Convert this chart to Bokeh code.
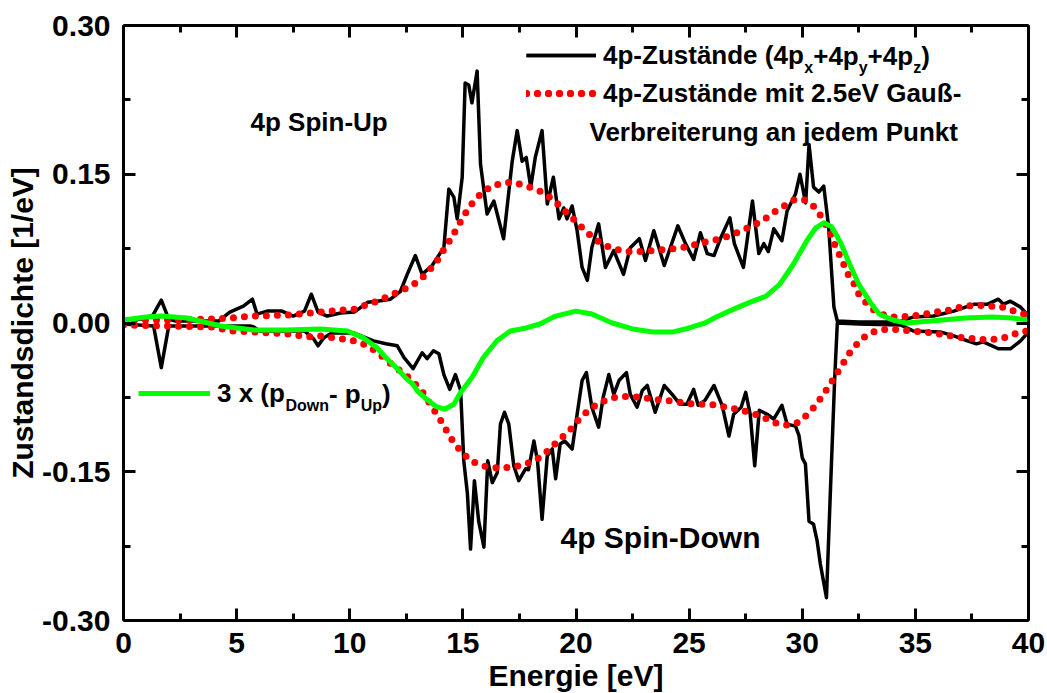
from bokeh.plotting import figure
from bokeh.models import (Range1d, FixedTicker, LinearAxis, NumeralTickFormatter,
                          CustomJSTickFormatter, Label, Legend, LegendItem)
from bokeh.embed import file_html
from bokeh.resources import INLINE

FONT = "Liberation Sans"

# ---------------- data ----------------
up_energy = [0, 0.8, 1.3, 1.67, 2.0, 2.3, 3.0, 4.2, 4.7, 5.3, 5.7, 5.9, 6.35, 7.0, 7.5, 8.0, 8.3, 8.6,
             9.0, 9.6, 10.2, 10.8, 11.2, 11.8, 12.24, 12.54, 12.9, 13.2, 13.64, 14.16, 14.38, 14.6,
             14.75, 14.97, 15.1, 15.26, 15.4, 15.63, 15.78, 16.07, 16.37, 16.8, 17.18, 17.4, 17.62,
             17.8, 18.0, 18.2, 18.5, 18.73, 19.0, 19.25, 19.46, 19.6, 19.83, 20.05, 20.27, 20.5, 20.7,
             21.0, 21.3, 21.67, 22.1, 22.4, 22.8, 23.07, 23.44, 23.9, 24.5, 24.84, 25.2, 25.5, 25.8,
             26.1, 26.4, 26.8, 27.0, 27.4, 27.8, 28.08, 28.3, 28.5, 28.74, 29.1, 29.33, 29.7, 29.9,
             30.15, 30.3, 30.5, 30.73, 30.95, 31.17, 31.4, 31.55, 32.5, 33.5, 34.2, 34.9, 35.8, 36.7,
             37.6, 38.2, 38.67, 38.9, 39.2, 39.65, 40.0]
up_dos = [0.003, 0.004, 0.008, 0.023, 0.004, 0.002, 0.002, 0.002, 0.011, 0.017, 0.024, 0.009, 0.012,
          0.012, 0.007, 0.012, 0.029, 0.011, 0.007, 0.010, 0.011, 0.021, 0.022, 0.024, 0.032, 0.049,
          0.068, 0.049, 0.058, 0.076, 0.135, 0.127, 0.105, 0.147, 0.242, 0.240, 0.222, 0.254, 0.160,
          0.110, 0.123, 0.085, 0.163, 0.194, 0.163, 0.167, 0.137, 0.167, 0.194, 0.120, 0.147, 0.105,
          0.116, 0.105, 0.118, 0.093, 0.056, 0.043, 0.076, 0.100, 0.056, 0.073, 0.049, 0.076, 0.085,
          0.063, 0.093, 0.058, 0.098, 0.080, 0.064, 0.091, 0.070, 0.068, 0.086, 0.106, 0.080, 0.056,
          0.123, 0.070, 0.080, 0.072, 0.095, 0.083, 0.113, 0.130, 0.150, 0.121, 0.180, 0.137, 0.132,
          0.138, 0.096, 0.016, 0.002, 0.001, 0.001, 0.001, 0.006, 0.007, 0.012, 0.019, 0.019, 0.024,
          0.019, 0.022, 0.016, 0.007]

down_energy = [0, 1.33, 1.67, 2.0, 3.0, 4.0, 5.6, 5.76, 6.0, 7.0, 8.0, 8.4, 8.6, 8.85, 9.2, 10.17,
               11.05, 11.6, 12.1, 12.4, 12.8, 13.2, 13.42, 13.7, 13.94, 14.16, 14.42, 14.67, 14.9,
               15.04, 15.2, 15.34, 15.51, 15.7, 15.93, 16.1, 16.3, 16.52, 16.66, 16.84, 17.03, 17.25,
               17.47, 17.77, 17.9, 18.14, 18.3, 18.5, 18.73, 18.95, 19.1, 19.3, 19.5, 19.83, 20.05,
               20.27, 20.46, 20.7, 21.0, 21.2, 21.45, 21.67, 21.9, 22.23, 22.4, 22.7, 22.93, 23.15,
               23.5, 23.9, 24.25, 24.6, 24.9, 25.2, 25.4, 25.7, 26.1, 26.46, 26.76, 26.97, 27.3, 27.5,
               27.7, 27.9, 28.1, 28.45, 28.74, 29.1, 29.33, 29.7, 29.85, 30.0, 30.14, 30.3, 30.5,
               30.66, 30.8, 31.07, 31.25, 31.43, 31.55, 32.5, 34.35, 34.9, 36.1, 36.7, 37.3, 37.7,
               38.0, 38.67, 39.2, 39.65, 40.0]
down_dos = [-0.001, -0.003, -0.045, -0.003, -0.003, -0.003, -0.003, -0.004, -0.008, -0.008, -0.008,
            -0.016, -0.023, -0.015, -0.010, -0.010, -0.018, -0.021, -0.023, -0.035, -0.046, -0.030,
            -0.036, -0.028, -0.031, -0.052, -0.067, -0.052, -0.068, -0.139, -0.172, -0.228, -0.159,
            -0.200, -0.226, -0.139, -0.161, -0.151, -0.102, -0.090, -0.102, -0.144, -0.159, -0.147,
            -0.148, -0.119, -0.139, -0.198, -0.134, -0.127, -0.157, -0.122, -0.119, -0.127, -0.092,
            -0.058, -0.050, -0.085, -0.105, -0.075, -0.052, -0.072, -0.058, -0.050, -0.072, -0.085,
            -0.068, -0.063, -0.090, -0.063, -0.072, -0.082, -0.082, -0.067, -0.083, -0.078, -0.063,
            -0.083, -0.114, -0.092, -0.085, -0.070, -0.092, -0.144, -0.088, -0.092, -0.097, -0.083,
            -0.102, -0.104, -0.113, -0.136, -0.142, -0.200, -0.203, -0.220, -0.243, -0.277, -0.166,
            -0.058, 0.000, -0.001, -0.002, -0.008, -0.009, -0.013, -0.018, -0.021, -0.019, -0.026,
            -0.026, -0.018, -0.009]

up_broad_energy = [0, 2, 4, 4.7, 5.76, 7.2, 8.7, 10.2, 11.2, 12.0, 12.6, 13.1, 13.55, 13.9, 14.16,
                   14.5, 14.77, 15.04, 15.35, 15.78, 16.25, 16.74, 17.2, 17.7, 18.2, 18.67, 19.15,
                   19.6, 20.1, 20.5, 21.0, 21.5, 22.0, 22.4, 22.9, 23.4, 23.9, 24.4, 24.9, 25.4,
                   25.96, 26.4, 26.9, 27.3, 27.8, 28.3, 28.7, 29.2, 29.7, 30.1, 30.6, 30.9, 31.2,
                   31.4, 31.6, 31.8, 32.0, 32.3, 32.5, 32.8, 33.1, 33.5, 33.9, 34.3, 34.8, 35.3,
                   35.8, 36.3, 36.8, 37.2, 37.7, 38.2, 38.7, 39.1, 39.6, 40.0]
up_broad_dos = [0.003, 0.003, 0.004, 0.005, 0.007, 0.008, 0.011, 0.014, 0.022, 0.030, 0.036, 0.043,
                0.054, 0.064, 0.074, 0.086, 0.097, 0.108, 0.119, 0.130, 0.138, 0.141, 0.142, 0.139,
                0.135, 0.130, 0.121, 0.111, 0.100, 0.091, 0.082, 0.076, 0.073, 0.072, 0.072, 0.073,
                0.074, 0.075, 0.077, 0.080, 0.083, 0.085, 0.089, 0.093, 0.098, 0.104, 0.111, 0.118,
                0.125, 0.124, 0.116, 0.105, 0.093, 0.081, 0.071, 0.061, 0.050, 0.039, 0.029, 0.021,
                0.014, 0.009, 0.006, 0.006, 0.007, 0.008, 0.011, 0.012, 0.015, 0.017, 0.018, 0.017,
                0.017, 0.014, 0.010, 0.008]

down_broad_energy = [0, 2, 4, 4.7, 5.76, 7.2, 8.2, 8.7, 10.2, 10.8, 11.3, 11.7, 12.1, 12.6, 13.0,
                     13.3, 13.64, 13.94, 14.24, 14.5, 14.9, 15.35, 15.85, 16.3, 16.8, 17.3, 17.8,
                     18.3, 18.7, 19.2, 19.7, 20.1, 20.6, 21.0, 21.5, 22.0, 22.4, 22.9, 23.4, 23.9,
                     24.4, 24.9, 25.4, 25.96, 26.4, 26.9, 27.3, 27.8, 28.3, 28.7, 29.2, 29.7, 30.1,
                     30.6, 30.9, 31.2, 31.5, 31.8, 32.1, 32.5, 32.9, 33.4, 33.9, 34.3, 34.8, 35.3,
                     35.8, 36.3, 36.8, 37.2, 37.7, 38.2, 38.7, 39.2, 39.6, 40.0]
down_broad_dos = [-0.002, -0.003, -0.004, -0.008, -0.009, -0.011, -0.014, -0.013, -0.018, -0.023,
                  -0.031, -0.039, -0.046, -0.055, -0.064, -0.072, -0.085, -0.095, -0.107, -0.117,
                  -0.129, -0.139, -0.144, -0.146, -0.146, -0.145, -0.142, -0.137, -0.130, -0.119,
                  -0.109, -0.098, -0.087, -0.081, -0.076, -0.074, -0.074, -0.075, -0.077, -0.078,
                  -0.079, -0.081, -0.082, -0.082, -0.084, -0.086, -0.088, -0.091, -0.095, -0.100,
                  -0.103, -0.102, -0.095, -0.083, -0.073, -0.063, -0.052, -0.041, -0.030, -0.019,
                  -0.011, -0.007, -0.006, -0.007, -0.008, -0.009, -0.010, -0.012, -0.014, -0.015,
                  -0.016, -0.017, -0.016, -0.013, -0.009, -0.008]

diff_energy = [0, 1.0, 1.67, 2.8, 4.3, 5.76, 7.2, 8.7, 9.9, 10.6, 11.2, 11.6, 12.1, 12.5, 12.8, 13.0,
               13.4, 13.8, 14.2, 14.6, 14.9, 15.4, 15.9, 16.5, 17.1, 17.8, 18.4, 19.1, 20.0, 20.7,
               21.6, 22.5, 23.4, 24.3, 25.0, 25.7, 26.2, 26.97, 27.7, 28.4, 29.0, 29.6, 30.2, 30.6,
               30.95, 31.3, 31.7, 32.1, 32.5, 33.0, 33.4, 34.0, 34.6, 35.7, 37.2, 38.4, 39.3, 40.0]
diff_dos = [0.003, 0.006, 0.007, 0.005, -0.003, -0.007, -0.007, -0.006, -0.008, -0.015, -0.025,
            -0.035, -0.046, -0.056, -0.062, -0.069, -0.077, -0.084, -0.087, -0.082, -0.070, -0.055,
            -0.035, -0.018, -0.008, -0.005, -0.001, 0.007, 0.012, 0.009, 0.000, -0.006, -0.009,
            -0.009, -0.005, 0.000, 0.006, 0.014, 0.021, 0.027, 0.039, 0.059, 0.083, 0.096, 0.101,
            0.097, 0.081, 0.059, 0.039, 0.021, 0.009, 0.003, 0.000, 0.002, 0.005, 0.006, 0.005, 0.003]

x_major_ticks = [0, 5, 10, 15, 20, 25, 30, 35, 40]
x_minor_ticks = [2.5, 7.5, 12.5, 17.5, 22.5, 27.5, 32.5, 37.5]
y_major_ticks = [-0.30, -0.15, 0.0, 0.15, 0.30]
y_minor_ticks = [-0.225, -0.075, 0.075, 0.225]

# ---------------- layout helpers ----------------
X0, X1, Y0, Y1 = 0, 40, -0.30, 0.30
FL, FT, FW, FH = 123, 25, 905, 595


def px_x(px):
    return X0 + (px - FL) / FW * (X1 - X0)


def px_y(py):
    return Y1 - (py - FT) / FH * (Y1 - Y0)


W = {' ': 278, '(': 333, ')': 333, '+': 584, '-': 333, '.': 278, 'D': 722, 'G': 778, 'P': 667,
     'U': 722, 'V': 667, 'Z': 611, 'a': 556, 'b': 611, 'c': 556, 'd': 611, 'e': 556, 'g': 611,
     'h': 611, 'i': 278, 'j': 278, 'k': 556, 'm': 889, 'n': 611, 'o': 611, 'p': 611, 'r': 389,
     's': 556, 't': 333, 'u': 611, 'w': 778, 'x': 556, 'y': 556, 'z': 500, 'ä': 556, 'ß': 611}


def text_w(s, size):
    return sum(W.get(c, 556) for c in s) / 1000 * size


p = figure(frame_width=FW, frame_height=FH, min_border_left=FL, min_border_right=19,
           min_border_top=FT, min_border_bottom=73,
           x_range=Range1d(X0, X1), y_range=Range1d(Y0, Y1),
           output_backend="svg", toolbar_location=None,
           x_axis_label="Energie [eV]", y_axis_label="Zustandsdichte [1/eV]")
p.xgrid.visible = False
p.ygrid.visible = False
p.outline_line_color = None
p.background_fill_color = "white"
p.border_fill_color = "white"

xt = FixedTicker(ticks=x_major_ticks, minor_ticks=x_minor_ticks)
yt = FixedTicker(ticks=y_major_ticks, minor_ticks=y_minor_ticks)


def style(ax):
    ax.axis_line_width = 3
    ax.axis_line_color = "black"
    ax.major_tick_line_width = 3
    ax.minor_tick_line_width = 3
    ax.major_tick_in = 12
    ax.major_tick_out = 0
    ax.minor_tick_in = 7
    ax.minor_tick_out = 0
    ax.major_label_text_font = FONT
    ax.major_label_text_font_style = "bold"
    ax.major_label_text_font_size = "30px"
    ax.major_label_text_color = "black"
    ax.axis_label_text_font = FONT
    ax.axis_label_text_font_style = "bold"
    ax.axis_label_text_font_size = "30px"
    ax.axis_label_text_color = "black"


xa = p.xaxis[0]
xa.ticker = xt
style(xa)
xa.major_label_standoff = 12
xa.axis_label_standoff = 3

ya = p.yaxis[0]
ya.ticker = yt
ya.formatter = NumeralTickFormatter(format="0.00")
style(ya)
ya.major_label_standoff = 13
ya.axis_label_standoff = 0

blank = CustomJSTickFormatter(code="return ''")
top = LinearAxis(ticker=FixedTicker(ticks=x_major_ticks, minor_ticks=x_minor_ticks), formatter=blank)
style(top)
top.major_label_standoff = 0
p.add_layout(top, "above")
right = LinearAxis(ticker=FixedTicker(ticks=y_major_ticks, minor_ticks=y_minor_ticks), formatter=blank)
style(right)
right.major_label_standoff = 0
p.add_layout(right, "right")

# ---------------- curves ----------------
r_up = p.line(up_energy, up_dos, line_color="black", line_width=3.5, line_join="round")
r_dn = p.line(down_energy, down_dos, line_color="black", line_width=3.5, line_join="round")
r_upb = p.line(up_broad_energy, up_broad_dos, line_color="red", line_width=7,
               line_dash="0 11", line_cap="round")
r_dnb = p.line(down_broad_energy, down_broad_dos, line_color="red", line_width=7,
               line_dash="0 11", line_cap="round")
r_diff = p.line(diff_energy, diff_dos, line_color="#00ff00", line_width=5, line_join="round")

# ---------------- legends ----------------
LEG_SIZE = 26
SUB_SIZE = 16
SUB_DROP = 11.5
ITEM_H = 36


def make_legend(items, left_px, top_px, glyph_w, standoff):
    n = len(items)
    height = n * ITEM_H + (n - 1) * 2
    leg = Legend(items=items, location=(left_px - FL, FT + FH - (top_px + height)),
                 glyph_width=glyph_w, glyph_height=ITEM_H, label_height=ITEM_H,
                 spacing=2, padding=0, margin=0, label_standoff=standoff,
                 border_line_color=None, background_fill_alpha=0,
                 label_text_font=FONT, label_text_font_style="bold",
                 label_text_font_size=f"{LEG_SIZE}px", label_text_color="black")
    p.add_layout(leg)


def runs(x_px, yc_px, parts):
    for txt, sub in parts:
        size = SUB_SIZE if sub else LEG_SIZE
        p.add_layout(Label(x=px_x(x_px), y=px_y(yc_px + (SUB_DROP if sub else 0)), text=txt,
                           text_font=FONT, text_font_style="bold", text_font_size=f"{size}px",
                           text_baseline="middle", text_align="left", text_color="black"))
        x_px += text_w(txt, size)


leg1_first = "4p-Zustände (4p"
make_legend([LegendItem(label=leg1_first, renderers=[r_up, r_dn]),
             LegendItem(label="4p-Zustände mit 2.5eV Gauß-", renderers=[r_upb, r_dnb])],
            526, 37, 70, 7)
runs(526 + 70 + 7 + text_w(leg1_first, LEG_SIZE), 37 + ITEM_H / 2,
     [("x", True), ("+4p", False), ("y", True), ("+4p", False), ("z", True), (")", False)])
runs(589, 131, [("Verbreiterung an jedem Punkt", False)])

leg2_first = "3 x (p"
make_legend([LegendItem(label=leg2_first, renderers=[r_diff])], 138, 393.3 - ITEM_H / 2, 72, 7)
runs(138 + 72 + 7 + text_w(leg2_first, LEG_SIZE), 393.3,
     [("Down", True), ("- p", False), ("Up", True), (")", False)])

# ---------------- annotations ----------------
p.add_layout(Label(x=px_x(250), y=px_y(136.7), text="4p Spin-Up", text_font=FONT,
                   text_font_style="bold", text_font_size="26px", text_color="black"))
p.add_layout(Label(x=px_x(560), y=px_y(553.3), text="4p Spin-Down", text_font=FONT,
                   text_font_style="bold", text_font_size="30px", text_color="black"))

open("out.html", "w").write(file_html(p, INLINE))
